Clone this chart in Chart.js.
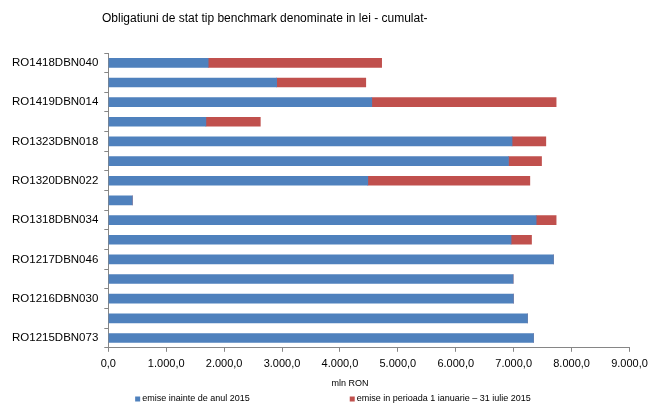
<!DOCTYPE html>
<html>
<head>
<meta charset="utf-8">
<script src="https://cdn.jsdelivr.net/npm/chart.js@4/dist/chart.umd.min.js"></script>
<style>
  html, body { margin: 0; padding: 0; background: #fff; }
  #wrap { width: 650px; height: 405px; }
</style>
</head>
<body>
<div id="wrap"><canvas id="chart"></canvas></div>
<script>
const titleText = "Obligatiuni de stat tip benchmark denominate in lei - cumulat-";
const axisTitle = "mln RON";

// top to bottom, only every other one is printed on the axis
const bonds = [
  "RO1418DBN040", "RO1425DBN029", "RO1419DBN014", "RO1521DBN026",
  "RO1323DBN018", "RO1322DBN027", "RO1320DBN022", "RO1519DBN037",
  "RO1318DBN034", "RO1317DBN040", "RO1217DBN046", "RO1416DBN019",
  "RO1216DBN030", "RO1315DBN044", "RO1215DBN073"
];
const before2015 = [1725, 2907, 4550, 1685, 6972, 6910, 4481, 415, 7388, 6955, 7688, 6990, 6996, 7239, 7343];
const in2015 = [2995, 1539, 3183, 940, 583, 571, 2798, 0, 345, 353, 0, 0, 0, 0, 0];
const seriesNames = ["emise inainte de anul 2015", "emise in perioada 1 ianuarie \u2013 31 iulie 2015"];
const xTicks = [0, 1000, 2000, 3000, 4000, 5000, 6000, 7000, 8000, 9000];

const font = "'Liberation Sans', Arial, sans-serif";

function fmt(v) {
  const parts = v.toFixed(1).split(".");
  const int = parts[0].replace(/\B(?=(\d{3})+(?!\d))/g, ".");
  return int + "," + parts[1];
}

// title, axis caption and legend drawn by hand to sit where the original has them
const extras = {
  id: "extras",
  afterDraw(chart) {
    const ctx = chart.ctx;
    ctx.save();
    ctx.fillStyle = "#000";
    ctx.textBaseline = "middle";
    ctx.textAlign = "left";
    ctx.font = "12px " + font;
    ctx.fillText(titleText, 102, 19);

    ctx.font = "9px " + font;
    ctx.textAlign = "center";
    ctx.fillText(axisTitle, 350, 384);

    ctx.textAlign = "left";
    const box = 5, gap = 100;
    const items = chart.data.datasets.map(d => ({
      text: d.label, color: d.backgroundColor,
      w: box + 2 + ctx.measureText(d.label).width
    }));
    const total = items.reduce((s, it) => s + it.w, 0) + gap * (items.length - 1);
    let x = 333 - total / 2;
    const y = 399;
    items.forEach(it => {
      ctx.fillStyle = it.color;
      ctx.fillRect(x, y - box / 2, box, box);
      ctx.fillStyle = "#000";
      ctx.fillText(it.text, x + box + 2, y);
      x += it.w + gap;
    });
    ctx.restore();
  }
};

new Chart(document.getElementById("chart"), {
  type: "bar",
  data: {
    labels: bonds,
    datasets: [
      { label: seriesNames[0], data: before2015, backgroundColor: "#4F81BD", barThickness: 9 },
      { label: seriesNames[1], data: in2015, backgroundColor: "#C0504D", barThickness: 9 }
    ]
  },
  options: {
    indexAxis: "y",
    responsive: true,
    maintainAspectRatio: false,
    animation: false,
    layout: { padding: { top: 53, left: 6, right: 0, bottom: 28 } },
    plugins: {
      legend: { display: false },
      title: { display: false },
      tooltip: { enabled: false }
    },
    scales: {
      x: {
        stacked: true,
        min: 0,
        max: 9000,
        afterBuildTicks: axis => { axis.ticks = xTicks.map(v => ({ value: v })); },
        afterFit: axis => { axis.paddingRight = 20.5; },
        grid: { drawOnChartArea: false, color: "#868686", tickLength: 4 },
        border: { color: "#868686" },
        ticks: {
          padding: 6,
          color: "#000",
          font: { family: font, size: 11 },
          callback: v => fmt(v)
        }
      },
      y: {
        stacked: true,
        grid: { drawOnChartArea: false, color: "#868686", tickLength: 4 },
        border: { color: "#868686" },
        ticks: {
          autoSkip: false,
          padding: 6,
          color: "#000",
          font: { family: font, size: 11.5 },
          callback: function (v, i) { return i % 2 === 0 ? this.getLabelForValue(v) : ""; }
        }
      }
    }
  },
  plugins: [extras]
});
</script>
</body>
</html>
